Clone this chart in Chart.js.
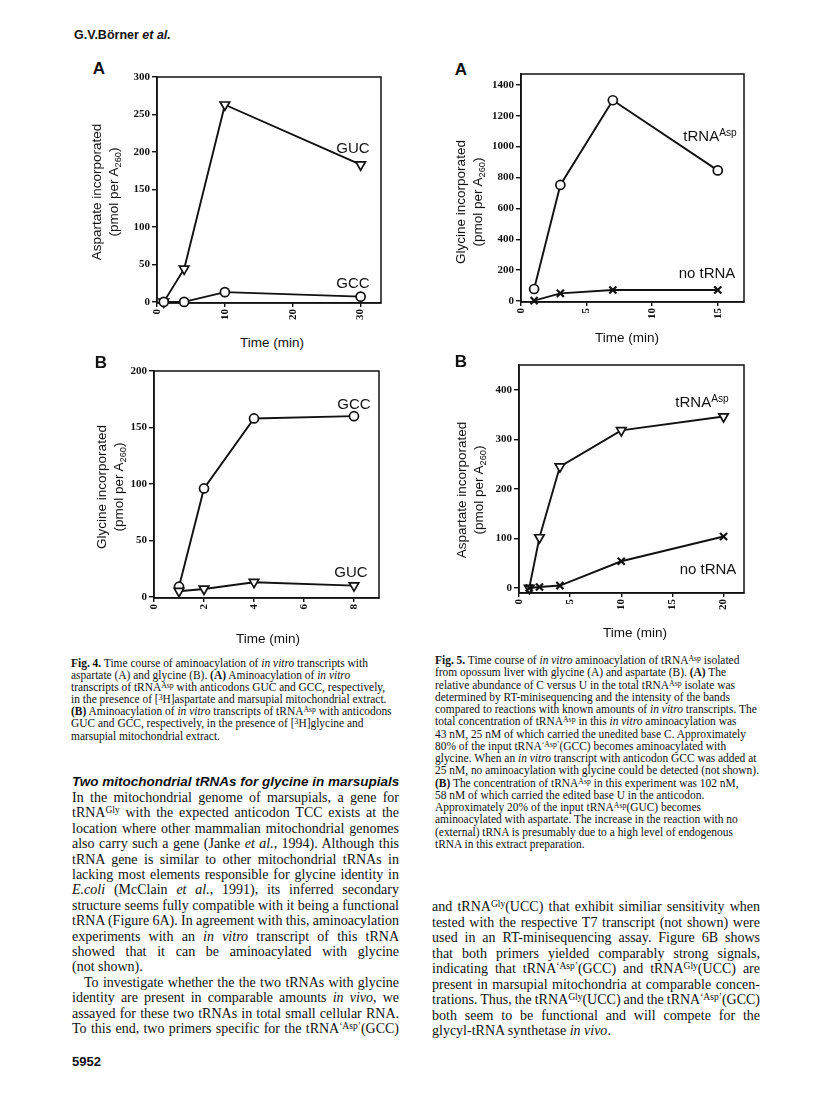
<!DOCTYPE html>
<html>
<head>
<meta charset="utf-8">
<script src="https://cdn.jsdelivr.net/npm/chart.js@4.4.1/dist/chart.umd.min.js"></script>
<style>
  html, body { margin: 0; padding: 0; background: #fff; }
  body { width: 816px; height: 1104px; position: relative; overflow: hidden; color: #111; font-family: "Liberation Serif", serif; }
  canvas { position: absolute; }
  .abs { position: absolute; white-space: nowrap; }
  .c { transform: translate(-50%, -50%); }
  .sans { font-family: "Liberation Sans", Arial, sans-serif; }
  .panel { font: bold 17px "Liberation Sans", sans-serif; }
  .ytitle { position: absolute; width: 240px; height: 34px; text-align: center; font: 13.5px/17px "Liberation Sans", sans-serif; transform: rotate(-90deg); white-space: nowrap; }
  .xtitle { font: 13.5px "Liberation Sans", sans-serif; }
  .lab { font: 15px "Liberation Sans", sans-serif; }
  sup { font-size: 0.68em; line-height: 0; vertical-align: 0.45em; }
  sub { font-size: 0.68em; line-height: 0; vertical-align: -0.3em; }
  .cap { position: absolute; font-size: 11.45px; line-height: 12.1px; }
  .cap div { white-space: nowrap; }
  .body { position: absolute; font-size: 14px; line-height: 15.4px; }
  .body div { white-space: nowrap; }
</style>
</head>
<body>

<div class="abs sans" style="left:74px; top:28px; font-size:12.5px; font-weight:bold;">G.V.Börner <i>et al.</i></div>

<!-- Fig. 4 -->
<div class="abs panel c" style="left:99px; top:69px;">A</div>
<canvas id="fig4a" width="274" height="266" style="left:117px; top:67px;"></canvas>
<div class="ytitle" style="left:-15px; top:175px;">Aspartate incorporated<br>(pmol per A<sub>260</sub>)</div>
<div class="abs lab c" style="left:353px; top:147px;">GUC</div>
<div class="abs lab c" style="left:353px; top:282px;">GCC</div>
<div class="abs xtitle c" style="left:272px; top:342px;">Time (min)</div>

<div class="abs panel c" style="left:101px; top:363px;">B</div>
<canvas id="fig4b" width="275" height="267" style="left:114px; top:361px;"></canvas>
<div class="ytitle" style="left:-10px; top:470px;">Glycine incorporated<br>(pmol per A<sub>260</sub>)</div>
<div class="abs lab c" style="left:354px; top:403px;">GCC</div>
<div class="abs lab c" style="left:351px; top:571px;">GUC</div>
<div class="abs xtitle c" style="left:268px; top:638px;">Time (min)</div>

<!-- Fig. 5 -->
<div class="abs panel c" style="left:461px; top:70px;">A</div>
<canvas id="fig5a" width="273" height="268" style="left:481px; top:64px;"></canvas>
<div class="ytitle" style="left:349px; top:185px;">Glycine incorporated<br>(pmol per A<sub>260</sub>)</div>
<div class="abs lab c" style="left:710px; top:135px;">tRNA<sup>Asp</sup></div>
<div class="abs lab c" style="left:707px; top:272px;">no tRNA</div>
<div class="abs xtitle c" style="left:627px; top:337px;">Time (min)</div>

<div class="abs panel c" style="left:461px; top:362px;">B</div>
<canvas id="fig5b" width="275" height="268" style="left:479px; top:355px;"></canvas>
<div class="ytitle" style="left:350px; top:473px;">Aspartate incorporated<br>(pmol per A<sub>260</sub>)</div>
<div class="abs lab c" style="left:702px; top:401px;">tRNA<sup>Asp</sup></div>
<div class="abs lab c" style="left:708px; top:568px;">no tRNA</div>
<div class="abs xtitle c" style="left:635px; top:632px;">Time (min)</div>

<!-- captions -->
<div class="cap" style="left:71px; top:657px;">
  <div><b>Fig. 4.</b> Time course of aminoacylation of <i>in vitro</i> transcripts with</div>
  <div>aspartate (A) and glycine (B). <b>(A)</b> Aminoacylation of <i>in vitro</i></div>
  <div>transcripts of tRNA<sup>Asp</sup> with anticodons GUC and GCC, respectively,</div>
  <div>in the presence of [<sup>3</sup>H]aspartate and marsupial mitochondrial extract.</div>
  <div><b>(B)</b> Aminoacylation of <i>in vitro</i> transcripts of tRNA<sup>Asp</sup> with anticodons</div>
  <div>GUC and GCC, respectively, in the presence of [<sup>3</sup>H]glycine and</div>
  <div>marsupial mitochondrial extract.</div>
</div>

<div class="cap" style="left:435px; top:654px; line-height:12.27px;">
  <div><b>Fig. 5.</b> Time course of <i>in vitro</i> aminoacylation of tRNA<sup>Asp</sup> isolated</div>
  <div>from opossum liver with glycine (A) and aspartate (B). <b>(A)</b> The</div>
  <div>relative abundance of C versus U in the total tRNA<sup>Asp</sup> isolate was</div>
  <div>determined by RT-minisequencing and the intensity of the bands</div>
  <div>compared to reactions with known amounts of <i>in vitro</i> transcripts. The</div>
  <div>total concentration of tRNA<sup>Asp</sup> in this <i>in vitro</i> aminoacylation was</div>
  <div>43 nM, 25 nM of which carried the unedited base C. Approximately</div>
  <div>80% of the input tRNA<sup>‘Asp’</sup>(GCC) becomes aminoacylated with</div>
  <div>glycine. When an <i>in vitro</i> transcript with anticodon GCC was added at</div>
  <div>25 nM, no aminoacylation with glycine could be detected (not shown).</div>
  <div><b>(B)</b> The concentration of tRNA<sup>Asp</sup> in this experiment was 102 nM,</div>
  <div>58 nM of which carried the edited base U in the anticodon.</div>
  <div>Approximately 20% of the input tRNA<sup>Asp</sup>(GUC) becomes</div>
  <div>aminoacylated with aspartate. The increase in the reaction with no</div>
  <div>(external) tRNA is presumably due to a high level of endogenous</div>
  <div>tRNA in this extract preparation.</div>
</div>

<!-- body text -->
<div class="abs sans" style="left:72px; top:774px; font-size:13.5px; font-weight:bold; font-style:italic;">Two mitochondrial tRNAs for glycine in marsupials</div>

<div class="body" style="left:72px; top:790px; width:327px;">
  <div class="j">In the mitochondrial genome of marsupials, a gene for</div>
  <div class="j">tRNA<sup>Gly</sup> with the expected anticodon TCC exists at the</div>
  <div class="j">location where other mammalian mitochondrial genomes</div>
  <div class="j">also carry such a gene (Janke <i>et al.</i>, 1994). Although this</div>
  <div class="j">tRNA gene is similar to other mitochondrial tRNAs in</div>
  <div class="j">lacking most elements responsible for glycine identity in</div>
  <div class="j"><i>E.coli</i> (McClain <i>et al.</i>, 1991), its inferred secondary</div>
  <div class="j">structure seems fully compatible with it being a functional</div>
  <div class="j">tRNA (Figure 6A). In agreement with this, aminoacylation</div>
  <div class="j">experiments with an <i>in vitro</i> transcript of this tRNA</div>
  <div class="j">showed that it can be aminoacylated with glycine</div>
  <div>(not shown).</div>
  <div class="j" style="padding-left:12px;">To investigate whether the the two tRNAs with glycine</div>
  <div class="j">identity are present in comparable amounts <i>in vivo</i>, we</div>
  <div class="j">assayed for these two tRNAs in total small cellular RNA.</div>
  <div class="j">To this end, two primers specific for the tRNA<sup>‘Asp’</sup>(GCC)</div>
</div>

<div class="body" style="left:432px; top:899px; width:328px; line-height:15.5px;">
  <div class="j">and tRNA<sup>Gly</sup>(UCC) that exhibit similiar sensitivity when</div>
  <div class="j">tested with the respective T7 transcript (not shown) were</div>
  <div class="j">used in an RT-minisequencing assay. Figure 6B shows</div>
  <div class="j">that both primers yielded comparably strong signals,</div>
  <div class="j">indicating that tRNA<sup>‘Asp’</sup>(GCC) and tRNA<sup>Gly</sup>(UCC) are</div>
  <div class="j">present in marsupial mitochondria at comparable concen-</div>
  <div class="j">trations. Thus, the tRNA<sup>Gly</sup>(UCC) and the tRNA<sup>‘Asp’</sup>(GCC)</div>
  <div class="j">both seem to be functional and will compete for the</div>
  <div>glycyl-tRNA synthetase <i>in vivo</i>.</div>
</div>

<div class="abs sans" style="left:72px; top:1054px; font-size:13px; font-weight:bold;">5952</div>

<script>
// Fig. 4A: aspartate incorporated, transcripts GUC / GCC
const fig4aTime = [1, 4, 10, 30];
const fig4aGUC = [0, 44, 263, 183];
const fig4aGCC = [0, 0, 13, 7];
const fig4aXTicks = [0, 10, 20, 30];
const fig4aYTicks = [0, 50, 100, 150, 200, 250, 300];

// Fig. 4B: glycine incorporated
const fig4bTime = [1, 2, 4, 8];
const fig4bGCC = [9, 96, 158, 160];
const fig4bGUC = [5, 7, 13, 10];
const fig4bXTicks = [0, 2, 4, 6, 8];
const fig4bYTicks = [0, 50, 100, 150, 200];

// Fig. 5A: glycine incorporated, liver tRNA-Asp vs no tRNA
const fig5aTime = [1, 3, 7, 15];
const fig5aAsp = [78, 752, 1300, 846];
const fig5aNone = [3, 50, 72, 72];
const fig5aXTicks = [0, 5, 10, 15];
const fig5aYTicks = [0, 200, 400, 600, 800, 1000, 1200, 1400];

// Fig. 5B: aspartate incorporated
const fig5bTime = [1, 2, 4, 10, 20];
const fig5bAsp = [0, 102, 245, 318, 346];
const fig5bNone = [0, 2, 5, 54, 104];
const fig5bXTicks = [0, 5, 10, 15, 20];
const fig5bYTicks = [0, 100, 200, 300, 400];

const INK = '#111';

const MARKERS = {
  circle: { pointStyle: 'circle', pointRadius: 4.5, pointBorderWidth: 1.7 },
  triDown: { pointStyle: 'triangle', rotation: 180, pointRadius: 5.5, pointBorderWidth: 1.7 },
  cross: { pointStyle: 'crossRot', pointRadius: 5, pointBorderWidth: 2.2 }
};

// full box round the plot area
const framePlugin = {
  id: 'frame',
  beforeDatasetsDraw(chart) {
    const { ctx, chartArea: a } = chart;
    ctx.save();
    ctx.strokeStyle = INK;
    ctx.lineWidth = 1.5;
    ctx.strokeRect(a.left, a.top, a.right - a.left, a.bottom - a.top);
    ctx.restore();
  }
};

function series(xs, ys, marker) {
  return Object.assign({
    data: xs.map((x, i) => ({ x: x, y: ys[i] })),
    borderColor: INK,
    borderWidth: 1.9,
    pointBackgroundColor: '#fff',
    pointBorderColor: INK,
    tension: 0,
    clip: false
  }, MARKERS[marker]);
}

function axis(min, max, tickVals, isX) {
  return {
    type: 'linear',
    min: min,
    max: max,
    afterBuildTicks: s => { s.ticks = tickVals.map(v => ({ value: v })); },
    afterFit: s => { if (isX) s.height = 30; else s.width = 40; },
    grid: { drawOnChartArea: false, tickLength: isX ? 4 : 5, color: INK, lineWidth: 1.4 },
    border: { color: INK, width: 1.5 },
    ticks: {
      color: INK,
      padding: isX ? 2 : 2,
      minRotation: isX ? 90 : 0,
      maxRotation: isX ? 90 : 0,
      font: { family: 'Liberation Serif', size: 11, weight: 'bold' },
      callback: v => String(v)
    }
  };
}

function makeChart(id, xMax, yMin, yMax, xTicks, yTicks, datasets) {
  return new Chart(document.getElementById(id), {
    type: 'line',
    data: { datasets: datasets },
    options: {
      responsive: false,
      animation: false,
      events: [],
      layout: { padding: { top: 10, right: 10, left: 0, bottom: 0 } },
      plugins: { legend: { display: false }, tooltip: { enabled: false } },
      scales: {
        x: axis(0, xMax, xTicks, true),
        y: axis(yMin, yMax, yTicks, false)
      }
    },
    plugins: [framePlugin]
  });
}

makeChart('fig4a', 33, -1.5, 300, fig4aXTicks, fig4aYTicks, [
  series(fig4aTime, fig4aGCC, 'circle'),
  series(fig4aTime, fig4aGUC, 'triDown')
]);
makeChart('fig4b', 9, -1, 200, fig4bXTicks, fig4bYTicks, [
  series(fig4bTime, fig4bGUC, 'triDown'),
  series(fig4bTime, fig4bGCC, 'circle')
]);
makeChart('fig5a', 17, -6, 1470, fig5aXTicks, fig5aYTicks, [
  series(fig5aTime, fig5aNone, 'cross'),
  series(fig5aTime, fig5aAsp, 'circle')
]);
makeChart('fig5b', 22, -10, 450, fig5bXTicks, fig5bYTicks, [
  series(fig5bTime, fig5bNone, 'cross'),
  series(fig5bTime, fig5bAsp, 'triDown')
]);

// justify body lines to the column width by spreading the word gaps
document.querySelectorAll('.body .j').forEach(el => {
  el.style.display = 'inline-block';
  const natural = el.getBoundingClientRect().width;
  el.style.display = 'block';
  const target = el.parentElement.clientWidth;
  const gaps = (el.textContent.trim().match(/\s+/g) || []).length;
  if (gaps) el.style.wordSpacing = ((target - natural) / gaps) + 'px';
});
</script>
</body>
</html>
